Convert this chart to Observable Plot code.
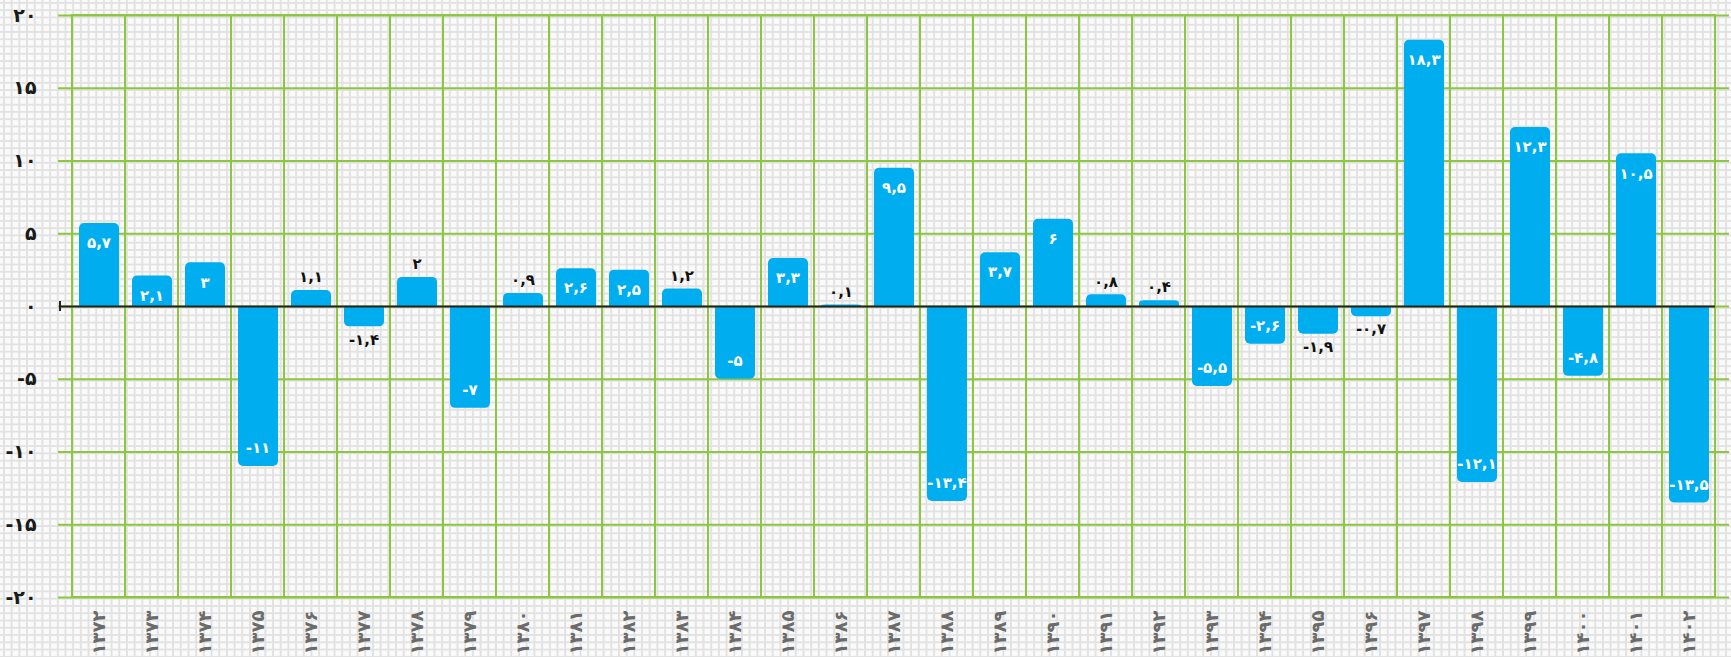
<!DOCTYPE html>
<html>
<head>
<meta charset="utf-8">
<script src="https://cdn.jsdelivr.net/npm/d3@7"></script>
<script src="https://cdn.jsdelivr.net/npm/@observablehq/plot@0.6"></script>
<style>
  html, body { margin: 0; padding: 0; overflow: hidden; }
  body {
    width: 1731px; height: 657px;
    background-color: #fafafa;
    background-image:
      linear-gradient(#e2e2e2 1.5px, transparent 1.5px),
      linear-gradient(90deg, #e2e2e2 1.5px, transparent 1.5px);
    background-size: 7.7px 7.28px;
    background-position: 3px 2px;
  }
</style>
</head>
<body>
<div id="chart"></div>
<script>
const years = [1372,1373,1374,1375,1376,1377,1378,1379,1380,1381,1382,1383,1384,1385,1386,1387,1388,1389,1390,1391,1392,1393,1394,1395,1396,1397,1398,1399,1400,1401,1402];
const values = [5.7,2.1,3,-11,1.1,-1.4,2,-7,0.9,2.6,2.5,1.2,-5,3.3,0.1,9.5,-13.4,3.7,6,0.8,0.4,-5.5,-2.6,-1.9,-0.7,18.3,-12.1,12.3,-4.8,10.5,-13.5];
const yTicks = [-20,-15,-10,-5,0,5,10,15,20];

const faDigits = "۰۱۲۳۴۵۶۷۸۹";
const toFa = v => String(v).replace(/\d/g, d => faDigits[d]).replace(".", ",");

const data = years.map((y, i) => ({year: y, v: values[i]}));
const blue = "#00aeef";
const green = "#8dc63f";
const threshold = 2;
const posIn = data.filter(d => d.v > threshold);
const negIn = data.filter(d => d.v < -threshold);
const posOut = data.filter(d => d.v >= 0 && d.v <= threshold);
const negOut = data.filter(d => d.v < 0 && d.v >= -threshold);

const chart = Plot.plot({
  width: 1731,
  height: 657,
  marginTop: 15,
  marginBottom: 60,
  marginLeft: 58,
  marginRight: 2,
  style: { background: "transparent", fontFamily: "'DejaVu Sans', sans-serif", overflow: "visible" },
  x: { type: "band", domain: years, padding: 0 },
  y: { domain: [yTicks[0], yTicks[yTicks.length - 1]] },
  marks: [
    Plot.barY(years, { x: d => d, y1: yTicks[0], y2: yTicks[yTicks.length - 1], fill: "none", stroke: green, strokeWidth: 2 }),
    Plot.ruleY(yTicks, { stroke: green, strokeWidth: 2 }),
    Plot.barY(data, { x: "year", y: "v", fill: blue, rx: 5, insetLeft: 7, insetRight: 6 }),
    Plot.barY(data, { x: "year", y1: 0, y2: d => d.v / 2, fill: blue, insetLeft: 7, insetRight: 6 }),
    Plot.axisY(yTicks, { tickSize: 0, tickPadding: 22, tickFormat: toFa, fontSize: 19, fontWeight: "bold", fill: "#1a1a1a", label: null }),
    Plot.axisX({ tickRotate: -90, tickSize: 0, tickPadding: 13, tickFormat: toFa, fontSize: 18, fontWeight: "bold", fill: "#6b6b6b", label: null }),
    Plot.text(posIn, { x: "year", y: "v", text: d => toFa(d.v), dy: 20, fill: "white", fontSize: 15, fontWeight: "bold" }),
    Plot.text(negIn, { x: "year", y: "v", text: d => toFa(d.v), dy: -18, fill: "white", fontSize: 15, fontWeight: "bold" }),
    Plot.text(posOut, { x: "year", y: "v", text: d => toFa(d.v), dy: -13, fill: "#111", fontSize: 15, fontWeight: "bold" }),
    Plot.text(negOut, { x: "year", y: "v", text: d => toFa(d.v), dy: 13, fill: "#111", fontSize: 15, fontWeight: "bold" })
  ]
});

// zero baseline with a small end tick, positioned through the chart's own scales
const xs = chart.scale("x"), ys = chart.scale("y");
const y0 = ys.apply(0);
const xStart = xs.apply(years[0]) - 12;
const xEnd = xs.apply(years[years.length - 1]) + xs.bandwidth;
const g = d3.select(chart).append("g").attr("stroke", "#222").attr("stroke-width", 2);
g.append("line").attr("x1", xStart).attr("x2", xEnd).attr("y1", y0 + 0.5).attr("y2", y0 + 0.5);
g.append("line").attr("x1", xStart).attr("x2", xStart).attr("y1", y0 - 5).attr("y2", y0 + 5);
d3.select(chart).selectAll("g[aria-label='text']").raise();

document.getElementById("chart").appendChild(chart);
</script>
</body>
</html>
